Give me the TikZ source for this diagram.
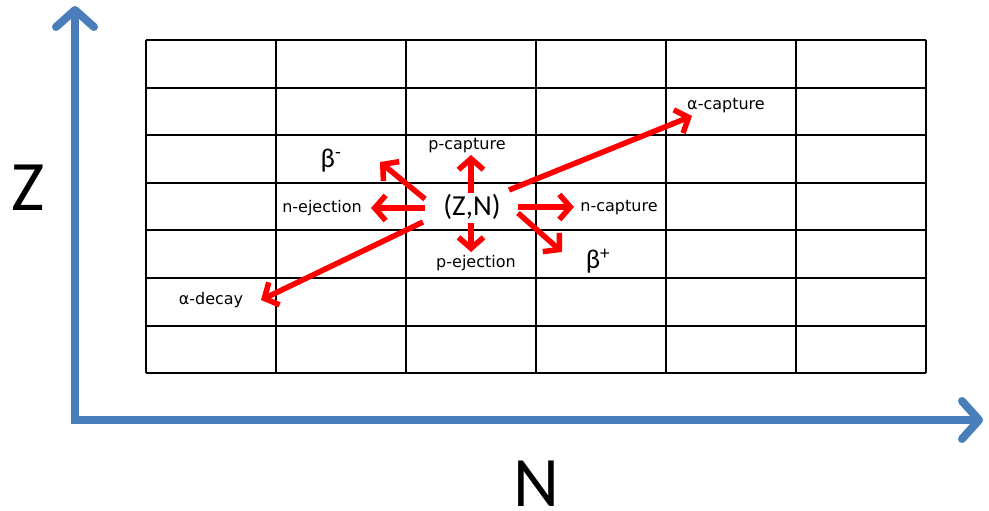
\documentclass[tikz,border=0pt]{standalone}
\usepackage{fontspec}
\setmainfont{Carlito}
\newfontfamily\lblfont{DejaVu Sans}
\usetikzlibrary{arrows.meta}
\definecolor{axisblue}{HTML}{4A7EBB}
\tikzset{
  axisline/.style={line width=8pt, color=axisblue, -{Straight Barb[length=17pt,width=38pt,round]}},
  reaction/.style={line width=5.5pt, color=red, -{Straight Barb[length=11pt,width=25pt]}},
  small/.style={font=\lblfont\fontsize{16}{18}\selectfont, inner sep=0pt},
  beta/.style={font=\fontsize{27}{30}\selectfont, inner sep=0pt},
  axislabel/.style={font=\fontsize{71}{74}\selectfont, inner sep=0pt},
  gridline/.style={line width=1.4pt, black}
}
\begin{document}
\begin{tikzpicture}[x=1pt,y=-1pt]
\useasboundingbox (0,0) rectangle (989,511);
% grid
\foreach \x in {146,276,406,536,666,796,926} \draw[gridline] (\x,40) -- (\x,373);
\foreach \y in {40,88,135,183,230,278,326,373} \draw[gridline] (146,\y) -- (926,\y);
% axes
\coordinate (origin) at (75,420);
\coordinate (ztip) at (75,6);
\coordinate (ntip) at (983,420);
\draw[axisline, -] (75,424) -- (origin);
\draw[axisline] (origin) -- (ztip);
\draw[axisline] (71,420) -- (ntip);
\node[axislabel, anchor=base] (Z) at (28,210) {Z};
\node[axislabel, anchor=base] (N) at (536,506) {N};
% center
\node[font=\fontsize{29}{32}\selectfont, inner sep=0pt] (ZN) at (472,207) {(Z,N)};
% labels
\node[small] (pcap) at (467,146) {p-capture};
\node[small] (pej) at (476,263) {p-ejection};
\node[small] (nej) at (322,208) {n-ejection};
\node[small] (ncap) at (619,208) {n-capture};
\node[small] (acap) at (726,106) {α-capture};
\node[small] (adec) at (211,300) {α-decay};
\node[beta] (bm) at (331,161) {β\textsuperscript{-}};
\node[beta] (bp) at (598,261) {β\textsuperscript{+}};
% arrow endpoints
\coordinate (s1) at (471,193); \coordinate (e1) at (471,155);
\coordinate (s2) at (471,223); \coordinate (e2) at (471,252);
\coordinate (s3) at (425,208); \coordinate (e3) at (371,208);
\coordinate (s4) at (518,207); \coordinate (e4) at (574,207);
\coordinate (s5) at (425,199); \coordinate (e5) at (380,162);
\coordinate (s6) at (518,213); \coordinate (e6) at (562,252);
\coordinate (s7) at (509,190); \coordinate (e7) at (692,116);
\coordinate (s8) at (423,222); \coordinate (e8) at (261,300);
\draw[reaction] (s1) -- (e1);
\draw[reaction] (s2) -- (e2);
\draw[reaction] (s3) -- (e3);
\draw[reaction] (s4) -- (e4);
\draw[reaction] (s5) -- (e5);
\draw[reaction] (s6) -- (e6);
\draw[reaction] (s7) -- (e7);
\draw[reaction] (s8) -- (e8);
\end{tikzpicture}
\end{document}
